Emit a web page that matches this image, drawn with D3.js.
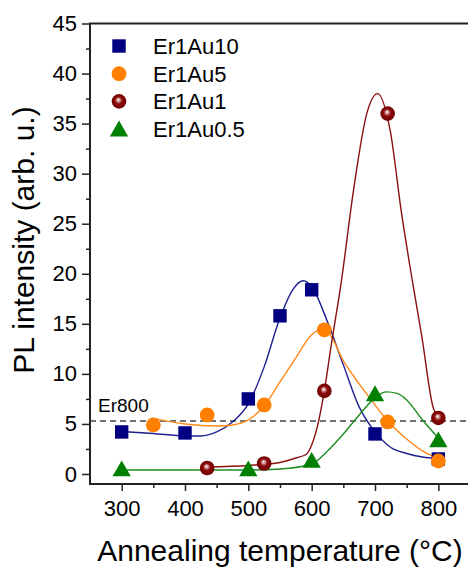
<!DOCTYPE html>
<head>
  <style>
    body { margin: 0; background: #fff; }
    text { font-family: "Liberation Sans", Arial, sans-serif; fill: #000; }
    .axis path { display: none; }
    .axis line { stroke: #222; stroke-width: 1.5; }
  </style>
</head>
<body>
  <script src="https://cdn.jsdelivr.net/npm/d3@7"></script>
  <script>
    // data
    var seriesNames = ["Er1Au10", "Er1Au5", "Er1Au1", "Er1Au0.5"];

    var au10Points = [[300, 4.2], [400, 4.1], [500, 7.5], [550, 15.8], [600, 18.4], [700, 4.0], [800, 1.5]];
    var au5Points = [[350, 4.9], [435, 5.9], [525, 6.9], [620, 14.4], [720, 5.2], [800, 1.3]];
    var au1Points = [[435, 0.6], [525, 1.05], [620, 8.3], [720, 36.0], [800, 5.6]];
    var au05Points = [[300, 0.3], [500, 0.3], [600, 1.15], [700, 7.8], [800, 3.2]];

    // fitted curves
    var au10Fit = [[300, 4.25], [350, 4.05], [400, 3.8], [425, 3.8], [450, 4.2], [475, 5.2], [500, 7.0], [525, 10.7],
      [550, 15.6], [570, 18.4], [587, 19.3], [600, 18.7], [625, 15.2], [650, 10.9], [675, 6.7], [700, 4.2],
      [725, 2.65], [750, 2.05], [775, 1.7], [800, 1.55]];
    var au5Fit = [[350, 5.55], [400, 5.0], [450, 4.8], [475, 4.9], [500, 5.4], [525, 6.8], [550, 9.2], [575, 11.6],
      [600, 13.9], [613, 14.4], [625, 14.2], [650, 11.3], [675, 9.0], [700, 6.9], [720, 5.3], [750, 3.5],
      [775, 2.3], [800, 1.55]];
    var au1Fit = [[435, 0.7], [500, 0.85], [550, 1.15], [575, 1.6], [592, 2.0], [600, 2.9], [610, 5.0], [620, 8.3],
      [630, 12.5], [647, 19.3], [666, 28.3], [687, 36.0], [704, 38.0], [724, 34.3], [742, 26.0], [759, 19.3],
      [774, 13.7], [792, 6.6], [800, 5.6]];
    var au05Fit = [[300, 0.4], [400, 0.4], [500, 0.4], [550, 0.5], [600, 1.0], [625, 2.3], [650, 4.0], [675, 5.9],
      [700, 7.6], [718, 8.2], [735, 8.05], [750, 7.4], [775, 5.4], [800, 3.6]];

    var er800Level = 5.3;

    var xMajor = [300, 400, 500, 600, 700, 800];
    var xMinor = [350, 450, 550, 650, 750];
    var yMajor = [0, 5, 10, 15, 20, 25, 30, 35, 40, 45];
    var yMinor = [2.5, 7.5, 12.5, 17.5, 22.5, 27.5, 32.5, 37.5, 42.5];

    var container_w = 468;
    var container_h = 567;
    var plot = { left: 90, right: 470, top: 23.5, bottom: 484 };

    var xScale = d3.scaleLinear().domain([250, 850]).range([plot.left, plot.right]);
    var yScale = d3.scaleLinear().domain([-1, 45]).range([plot.bottom, plot.top]);

    var svg = d3.select("body")
      .append("svg")
      .attr("width", container_w)
      .attr("height", container_h);

    // gradient for the shaded balls
    var grad = svg.append("defs").append("radialGradient")
      .attr("id", "ball")
      .attr("cx", "50%").attr("cy", "50%").attr("r", "55%")
      .attr("fx", "45%").attr("fy", "38%");
    grad.append("stop").attr("offset", "0%").attr("stop-color", "#ffffff");
    grad.append("stop").attr("offset", "18%").attr("stop-color", "#d8a0a0");
    grad.append("stop").attr("offset", "45%").attr("stop-color", "#8a0808");
    grad.append("stop").attr("offset", "100%").attr("stop-color", "#6a0000");

    // axes
    svg.append("g")
      .attr("class", "axis")
      .attr("transform", `translate(${plot.left},0)`)
      .call(d3.axisLeft(yScale).tickValues(yMinor).tickSize(4).tickFormat(""));
    svg.append("g")
      .attr("class", "axis")
      .attr("transform", `translate(${plot.left},0)`)
      .call(d3.axisLeft(yScale).tickValues(yMajor).tickSize(8).tickPadding(5))
      .selectAll("text").style("font-size", "22px");

    svg.append("g")
      .attr("class", "axis")
      .attr("transform", `translate(0,${plot.bottom})`)
      .call(d3.axisBottom(xScale).tickValues(xMinor).tickSize(4).tickFormat(""));
    svg.append("g")
      .attr("class", "axis")
      .attr("transform", `translate(0,${plot.bottom})`)
      .call(d3.axisBottom(xScale).tickValues(xMajor).tickSize(7).tickPadding(9))
      .selectAll("text").style("font-size", "22px");

    // frame
    svg.append("rect")
      .attr("x", plot.left)
      .attr("y", plot.top)
      .attr("width", plot.right - plot.left)
      .attr("height", plot.bottom - plot.top)
      .attr("fill", "none")
      .attr("stroke", "#222")
      .attr("stroke-width", 2);

    // Er800 reference level
    svg.append("line")
      .attr("x1", plot.left)
      .attr("x2", plot.right)
      .attr("y1", yScale(er800Level))
      .attr("y2", yScale(er800Level))
      .attr("stroke", "#444")
      .attr("stroke-width", 1.5)
      .attr("stroke-dasharray", "6,4");
    svg.append("text")
      .attr("x", 98)
      .attr("y", 411.5)
      .style("font-size", "19px")
      .text("Er800");

    // fitted curves
    var line = d3.line()
      .x(d => xScale(d[0]))
      .y(d => yScale(d[1]))
      .curve(d3.curveMonotoneX);

    var fits = [
      { pts: au10Fit, color: "#1f1f90" },
      { pts: au5Fit, color: "#ff8a1a" },
      { pts: au1Fit, color: "#8b1010" },
      { pts: au05Fit, color: "#1e8c1e" }
    ];
    svg.append("g")
      .selectAll("path")
      .data(fits)
      .enter()
      .append("path")
      .attr("d", d => line(d.pts))
      .attr("fill", "none")
      .attr("stroke", d => d.color)
      .attr("stroke-width", 1.4);

    // markers
    var squareSym = d3.symbol().type(d3.symbolSquare).size(180);
    var triSym = d3.symbol().type(d3.symbolTriangle).size(145);

    function drawSquare(g, x, y) {
      g.append("path").attr("d", squareSym()).attr("transform", `translate(${x},${y})`)
        .attr("fill", "#000080");
    }
    function drawCircle(g, x, y) {
      g.append("circle").attr("cx", x).attr("cy", y).attr("r", 7.4).attr("fill", "#ff8000");
    }
    function drawBall(g, x, y) {
      g.append("circle").attr("cx", x).attr("cy", y).attr("r", 7.3).attr("fill", "url(#ball)");
    }
    function drawTriangle(g, x, y) {
      g.append("path").attr("d", triSym()).attr("transform", `translate(${x},${y})`)
        .attr("fill", "#008000");
    }

    var marks = svg.append("g");
    au10Points.forEach(d => drawSquare(marks, xScale(d[0]), yScale(d[1])));
    au5Points.forEach(d => drawCircle(marks, xScale(d[0]), yScale(d[1])));
    au1Points.forEach(d => drawBall(marks, xScale(d[0]), yScale(d[1])));
    au05Points.forEach(d => drawTriangle(marks, xScale(d[0]), yScale(d[1])));

    // legend
    var drawers = [drawSquare, drawCircle, drawBall, drawTriangle];
    var legend = svg.append("g");
    seriesNames.forEach(function (name, i) {
      var ry = 46 + i * 27.7;
      drawers[i](legend, 119, i == 3 ? ry + 2 : ry);
      legend.append("text")
        .attr("x", 153)
        .attr("y", ry + 8)
        .style("font-size", "22px")
        .text(name);
    });

    // axis titles
    svg.append("text")
      .attr("text-anchor", "middle")
      .attr("x", 280)
      .attr("y", 560.5)
      .style("font-size", "30px")
      .text("Annealing temperature (°C)");

    svg.append("text")
      .attr("text-anchor", "middle")
      .attr("transform", "translate(34,240)rotate(-90)")
      .style("font-size", "30px")
      .text("PL intensity (arb. u.)");
  </script>
</body>
